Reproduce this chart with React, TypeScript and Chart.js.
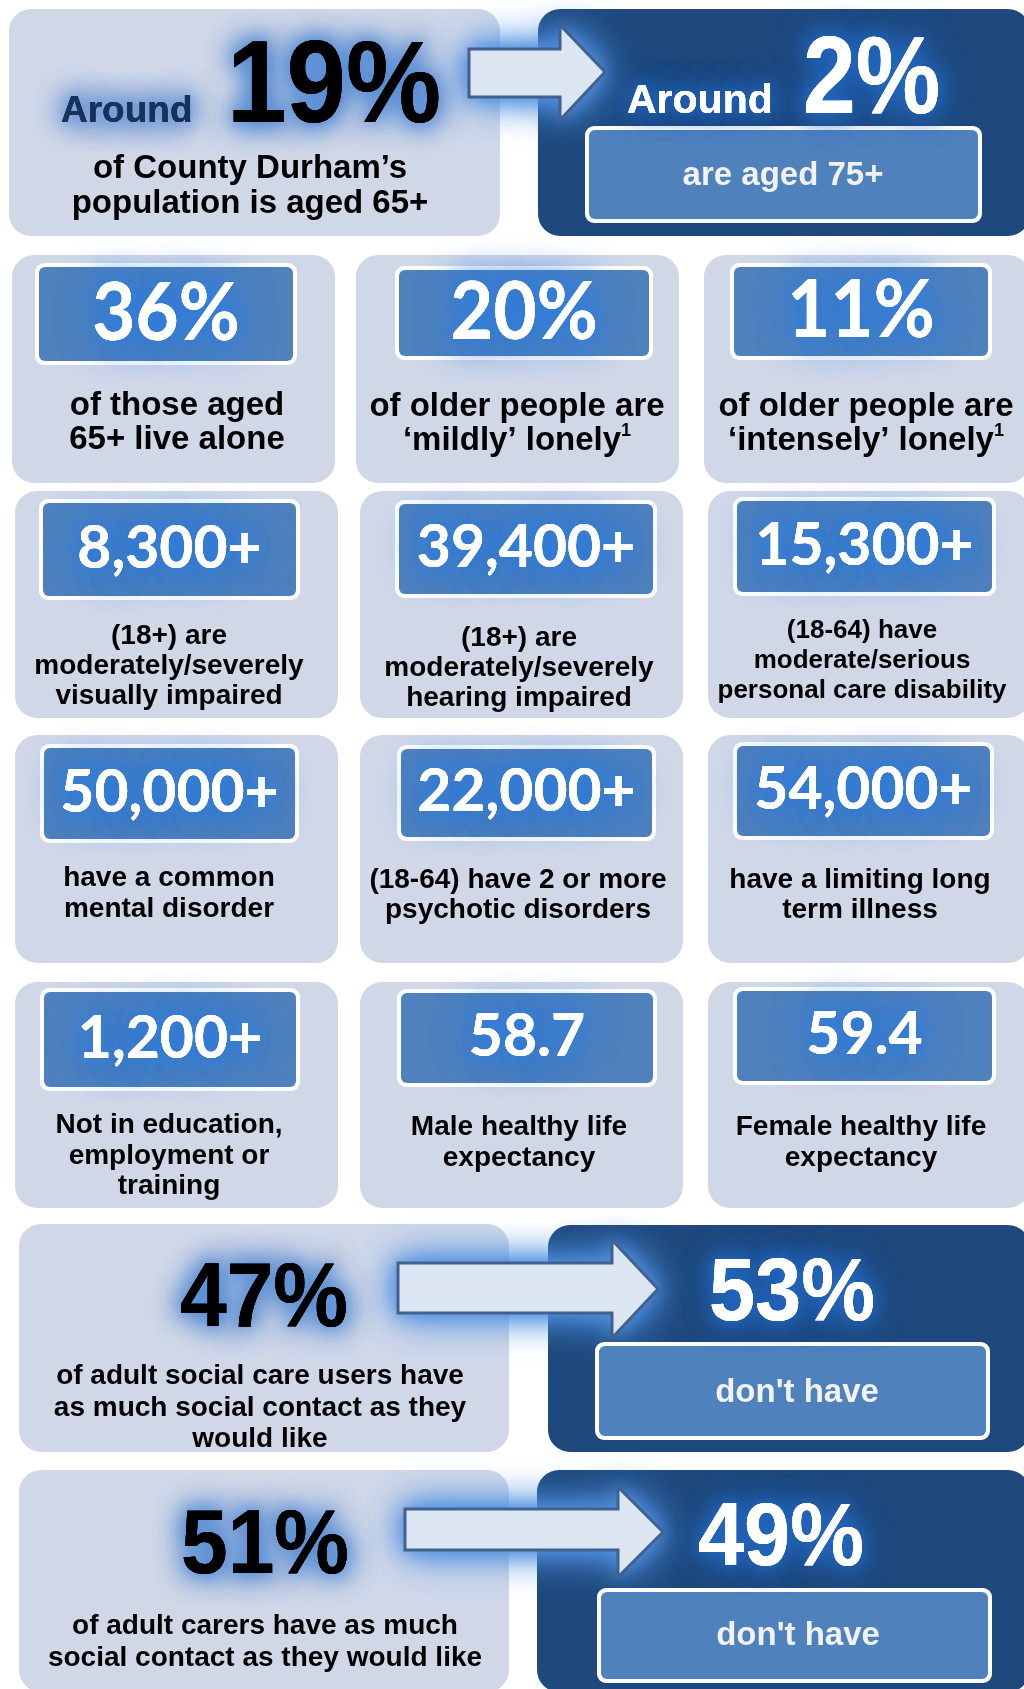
import React, { useEffect, useRef } from "react";
import { Chart, registerables } from "chart.js";

Chart.register(...registerables);

// ---------------- DATA ----------------
const headlinePrefix = "Around";
const headlineValue = "19%";
const headlineLabel = ["of County Durham’s", "population is aged 65+"];
const subPrefix = "Around";
const subValue = "2%";
const subLabel = "are aged 75+";

const tileValues = [
  "36%", "20%", "11%",
  "8,300+", "39,400+", "15,300+",
  "50,000+", "22,000+", "54,000+",
  "1,200+", "58.7", "59.4",
];
const tileLabels = [
  ["of those aged", "65+ live alone"],
  ["of older people are", "‘mildly’ lonely"],
  ["of older people are", "‘intensely’ lonely"],
  ["(18+) are", "moderately/severely", "visually impaired"],
  ["(18+) are", "moderately/severely", "hearing impaired"],
  ["(18-64) have", "moderate/serious", "personal care disability"],
  ["have a common", "mental disorder"],
  ["(18-64) have 2 or more", "psychotic disorders"],
  ["have a limiting long", "term illness"],
  ["Not in education,", "employment or", "training"],
  ["Male healthy life", "expectancy"],
  ["Female healthy life", "expectancy"],
];
const tileFootnotes = ["", "1", "1", "", "", "", "", "", "", "", "", ""];

const contactValues = ["47%", "51%"];
const contactLabels = [
  ["of adult social care users have", "as much social contact as they", "would like"],
  ["of adult carers have as much", "social contact as they would like"],
];
const complementValues = ["53%", "49%"];
const complementLabel = "don't have";

// ---------------- LAYOUT (positions / sizes) ----------------
const W = 1024;
const H = 1689;
const ARIAL = '"Liberation Sans", Arial, Helvetica, sans-serif';
const CALIBRI = 'Lato, "Open Sans", sans-serif';
const LIGHT = "#D0D8E8";
const DARK = "#1F497D";
const MID = "#4F81BD";
const DARK_GLOW = "rgba(85,140,212,0.9)";
const LIGHT_GLOW = "rgba(35,105,195,1)";

const TOP = {
  light: [9, 9, 500, 236],
  dark: [538, 9, 1030, 236],
  inner: [585, 126, 982, 223],
  prefix1: { x: 61, y: 122, size: 37 },
  value1: { x: 227, y: 122, size: 107, sy: 1.1 },
  label1: { x: 250, lines: [178, 213], size: 33 },
  prefix2: { x: 627, y: 113, size: 41 },
  value2: { x: 803, y: 113, size: 95, sy: 1.15 },
  label2: { x: 783, y: 185, size: 33 },
  arrow: { x0: 469, sy0: 49, sy1: 97, hx: 560, hy0: 25, hy1: 120, tx: 605, ty: 72 },
};

const TILES = [
  { box: [12, 255, 335, 483], inner: [35, 263, 297, 365], cx: 177, lines: [415, 449], fs: 33, ns: 80, sx: 0.93 },
  { box: [356, 255, 679, 483], inner: [395, 266, 653, 360], cx: 517, lines: [416, 450], fs: 33, ns: 80, sx: 0.93 },
  { box: [704, 255, 1030, 483], inner: [730, 263, 992, 360], cx: 866, lines: [416, 450], fs: 33, ns: 80, sx: 0.93 },
  { box: [15, 491, 338, 718], inner: [39, 499, 300, 600], cx: 169, lines: [644, 674, 704], fs: 28, ns: 60, sx: 0.98 },
  { box: [360, 491, 683, 718], inner: [395, 500, 657, 598], cx: 519, lines: [646, 676, 706], fs: 28, ns: 60, sx: 0.98 },
  { box: [708, 491, 1030, 718], inner: [733, 497, 996, 596], cx: 862, lines: [638, 668, 698], fs: 26, ns: 60, sx: 0.98 },
  { box: [15, 735, 338, 963], inner: [40, 744, 299, 843], cx: 169, lines: [886, 917], fs: 28, ns: 60, sx: 0.98 },
  { box: [360, 735, 683, 963], inner: [397, 745, 656, 841], cx: 518, lines: [888, 918], fs: 28, ns: 60, sx: 0.98 },
  { box: [708, 735, 1030, 963], inner: [733, 742, 994, 840], cx: 860, lines: [888, 918], fs: 28, ns: 60, sx: 0.98 },
  { box: [15, 982, 338, 1208], inner: [40, 988, 300, 1091], cx: 169, lines: [1133, 1164, 1194], fs: 28, ns: 60, sx: 0.98 },
  { box: [360, 982, 683, 1208], inner: [397, 989, 657, 1087], cx: 519, lines: [1135, 1166], fs: 28, ns: 60, sx: 0.98 },
  { box: [708, 982, 1030, 1208], inner: [733, 987, 996, 1085], cx: 861, lines: [1135, 1166], fs: 28, ns: 60, sx: 0.98 },
];

const CONTACT = [
  {
    light: [19, 1224, 509, 1452], dark: [548, 1225, 1030, 1452], inner: [595, 1342, 990, 1440],
    valueX: 264, valueY: 1326, labelX: 260, lines: [1384, 1416, 1447],
    compX: 792, compY: 1320, compLabelX: 797, compLabelY: 1402,
    arrow: { x0: 398, sy0: 1263, sy1: 1313, hx: 612, hy0: 1240, hy1: 1338, tx: 658, ty: 1289 },
  },
  {
    light: [19, 1470, 509, 1692], dark: [537, 1470, 1030, 1692], inner: [597, 1588, 992, 1683],
    valueX: 265, valueY: 1573, labelX: 265, lines: [1634, 1666],
    compX: 781, compY: 1565, compLabelX: 798, compLabelY: 1645,
    arrow: { x0: 405, sy0: 1509, sy1: 1550, hx: 618, hy0: 1487, hy1: 1577, tx: 663, ty: 1532 },
  },
];

// ---------------- DRAW HELPERS ----------------
function rrPath(ctx: CanvasRenderingContext2D, x0: number, y0: number, x1: number, y1: number, r: number) {
  ctx.beginPath();
  ctx.moveTo(x0 + r, y0);
  ctx.lineTo(x1 - r, y0);
  ctx.arcTo(x1, y0, x1, y0 + r, r);
  ctx.lineTo(x1, y1 - r);
  ctx.arcTo(x1, y1, x1 - r, y1, r);
  ctx.lineTo(x0 + r, y1);
  ctx.arcTo(x0, y1, x0, y1 - r, r);
  ctx.lineTo(x0, y0 + r);
  ctx.arcTo(x0, y0, x0 + r, y0, r);
  ctx.closePath();
}

function glowText(
  ctx: CanvasRenderingContext2D, text: string, x: number, y: number,
  fill: string, glow: string, blur: number, passes: number, sx = 1, sy = 1
) {
  ctx.save();
  ctx.translate(x, y);
  ctx.scale(sx, sy);
  ctx.save();
  ctx.fillStyle = fill;
  ctx.shadowColor = glow;
  ctx.shadowBlur = blur * 1.8;
  for (let i = 0; i < passes; i++) ctx.fillText(text, 0, 0);
  ctx.shadowBlur = blur;
  ctx.fillText(text, 0, 0);
  ctx.restore();
  ctx.fillStyle = fill;
  ctx.fillText(text, 0, 0);
  ctx.restore();
}

const infographicPlugin = {
  id: "infographic",
  afterDraw(chart: any) {
    const ctx: CanvasRenderingContext2D = chart.ctx;
    const xs = chart.scales.x;
    const ys = chart.scales.y;
    const X = (v: number) => xs.getPixelForValue(v);
    const Y = (v: number) => ys.getPixelForValue(v);
    const box = (b: number[], r: number, fill: string) => {
      rrPath(ctx, X(b[0]), Y(b[1]), X(b[2]), Y(b[3]), r);
      ctx.fillStyle = fill;
      ctx.fill();
    };
    const innerBox = (b: number[], border: number) => {
      box(b, 9, "#FFFFFF");
      box([b[0] + border, b[1] + border, b[2] - border, b[3] - border], 6, MID);
    };
    const arrow = (a: any) => {
      const path = () => {
        ctx.beginPath();
        ctx.moveTo(X(a.x0), Y(a.sy0));
        ctx.lineTo(X(a.hx), Y(a.sy0));
        ctx.lineTo(X(a.hx), Y(a.hy0));
        ctx.lineTo(X(a.tx), Y(a.ty));
        ctx.lineTo(X(a.hx), Y(a.hy1));
        ctx.lineTo(X(a.hx), Y(a.sy1));
        ctx.lineTo(X(a.x0), Y(a.sy1));
        ctx.closePath();
      };
      ctx.save();
      ctx.shadowColor = "rgba(80,145,225,1)";
      ctx.shadowBlur = 40;
      path();
      ctx.fillStyle = "#DCE6F2";
      ctx.fill();
      ctx.fill();
      ctx.shadowBlur = 18;
      ctx.fill();
      ctx.restore();
      path();
      ctx.fillStyle = "#DCE6F2";
      ctx.fill();
      ctx.lineWidth = 3;
      ctx.strokeStyle = "#42618E";
      ctx.lineJoin = "miter";
      ctx.stroke();
    };

    ctx.save();
    ctx.fillStyle = "#FFFFFF";
    ctx.fillRect(0, 0, chart.width, chart.height);
    ctx.textBaseline = "alphabetic";

    // ---- top section ----
    box(TOP.light, 22, LIGHT);
    box(TOP.dark, 22, DARK);
    arrow(TOP.arrow);
    innerBox(TOP.inner, 4);

    ctx.textAlign = "left";
    ctx.font = `bold ${TOP.prefix1.size}px ${ARIAL}`;
    glowText(ctx, headlinePrefix, X(TOP.prefix1.x), Y(TOP.prefix1.y), "#17335C", DARK_GLOW, 16, 3);
    ctx.font = `bold ${TOP.value1.size}px ${ARIAL}`;
    glowText(ctx, headlineValue, X(TOP.value1.x), Y(TOP.value1.y), "#000000", DARK_GLOW, 16, 3, 1, TOP.value1.sy);
    ctx.textAlign = "center";
    ctx.font = `bold ${TOP.label1.size}px ${ARIAL}`;
    ctx.fillStyle = "#000000";
    headlineLabel.forEach((t, i) => ctx.fillText(t, X(TOP.label1.x), Y(TOP.label1.lines[i])));

    ctx.textAlign = "left";
    ctx.font = `bold ${TOP.prefix2.size}px ${ARIAL}`;
    glowText(ctx, subPrefix, X(TOP.prefix2.x), Y(TOP.prefix2.y), "#FFFFFF", LIGHT_GLOW, 16, 2);
    ctx.font = `bold ${TOP.value2.size}px ${ARIAL}`;
    glowText(ctx, subValue, X(TOP.value2.x), Y(TOP.value2.y), "#FFFFFF", LIGHT_GLOW, 18, 2, 1, TOP.value2.sy);
    ctx.textAlign = "center";
    ctx.font = `bold ${TOP.label2.size}px ${ARIAL}`;
    ctx.fillStyle = "#F2F2F2";
    ctx.fillText(subLabel, X(TOP.label2.x), Y(TOP.label2.y));

    // ---- tiles ----
    TILES.forEach((t, i) => {
      box(t.box, 22, LIGHT);
      innerBox(t.inner, 4);
      const icx = (t.inner[0] + t.inner[2]) / 2;
      const icy = (t.inner[1] + t.inner[3]) / 2;
      ctx.textAlign = "center";
      ctx.font = `bold ${t.ns}px ${CALIBRI}`;
      const base = icy + (t.ns * 0.716) / 2 - 3;
      glowText(ctx, tileValues[i], X(icx), Y(base), "#FFFFFF", "rgba(45,125,225,0.95)", 22, 2, t.sx, 1);

      ctx.font = `bold ${t.fs}px ${ARIAL}`;
      ctx.fillStyle = "#000000";
      const lines = tileLabels[i];
      lines.forEach((line, j) => {
        const isLast = j === lines.length - 1;
        const fn = isLast ? tileFootnotes[i] : "";
        if (!fn) {
          ctx.textAlign = "center";
          ctx.fillText(line, X(t.cx), Y(t.lines[j]));
        } else {
          ctx.font = `bold ${t.fs}px ${ARIAL}`;
          const w1 = ctx.measureText(line).width;
          ctx.font = `bold ${Math.round(t.fs * 0.55)}px ${ARIAL}`;
          const w2 = ctx.measureText(fn).width;
          const startX = X(t.cx) - (w1 + w2) / 2;
          ctx.textAlign = "left";
          ctx.font = `bold ${t.fs}px ${ARIAL}`;
          ctx.fillText(line, startX, Y(t.lines[j]));
          ctx.font = `bold ${Math.round(t.fs * 0.55)}px ${ARIAL}`;
          ctx.fillText(fn, startX + w1, Y(t.lines[j]) - t.fs * 0.42);
          ctx.font = `bold ${t.fs}px ${ARIAL}`;
        }
      });
    });

    // ---- social contact sections ----
    CONTACT.forEach((c, i) => {
      box(c.light, 22, LIGHT);
      box(c.dark, 22, DARK);
      arrow(c.arrow);
      innerBox(c.inner, 4);
      ctx.textAlign = "center";
      ctx.font = `bold 84px ${ARIAL}`;
      glowText(ctx, contactValues[i], X(c.valueX), Y(c.valueY), "#000000", DARK_GLOW, 16, 3, 1, 1.08);
      ctx.font = `bold 28px ${ARIAL}`;
      ctx.fillStyle = "#000000";
      contactLabels[i].forEach((line, j) => ctx.fillText(line, X(c.labelX), Y(c.lines[j])));
      ctx.font = `bold 83px ${ARIAL}`;
      glowText(ctx, complementValues[i], X(c.compX), Y(c.compY), "#FFFFFF", LIGHT_GLOW, 16, 2, 1, 1.08);
      ctx.font = `bold 33px ${ARIAL}`;
      ctx.fillStyle = "#F2F2F2";
      ctx.fillText(complementLabel, X(c.compLabelX), Y(c.compLabelY));
    });

    ctx.restore();
  },
};

export default function App() {
  const canvasRef = useRef<HTMLCanvasElement | null>(null);

  useEffect(() => {
    document.body.style.margin = "0";
    const canvas = canvasRef.current;
    if (!canvas) return;
    const chart = new Chart(canvas, {
      type: "scatter",
      data: { datasets: [] },
      options: {
        animation: false,
        responsive: false,
        devicePixelRatio: 1,
        layout: { padding: 0 },
        events: [],
        plugins: { legend: { display: false }, tooltip: { enabled: false }, title: { display: false } },
        scales: {
          x: { type: "linear", min: 0, max: W, display: false },
          y: { type: "linear", min: 0, max: H, reverse: true, display: false },
        },
      },
      plugins: [infographicPlugin],
    } as any);
    const fonts = (document as any).fonts;
    if (fonts && fonts.load) {
      Promise.all([
        fonts.load(`bold 60px Lato`),
        fonts.load(`bold 30px "Liberation Sans"`),
      ]).then(() => chart.update()).catch(() => {});
    }
    return () => chart.destroy();
  }, []);

  return (
    <div style={{ width: W, height: H, margin: 0, padding: 0 }}>
      <canvas ref={canvasRef} width={W} height={H} style={{ display: "block", width: W, height: H }} />
    </div>
  );
}
